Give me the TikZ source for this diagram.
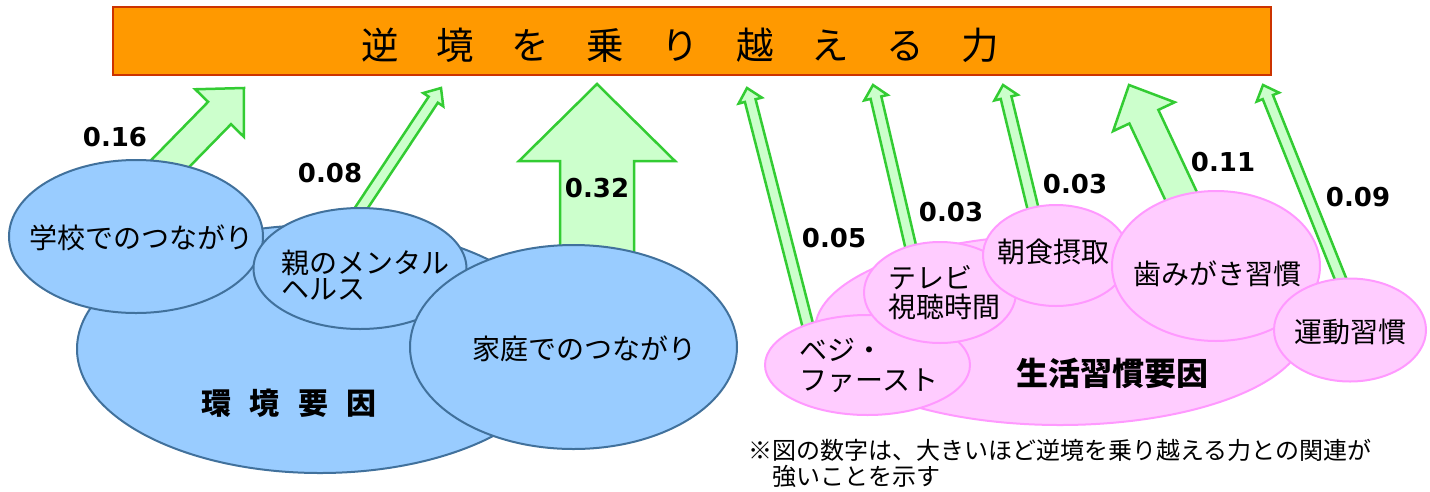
\documentclass[tikz,border=0pt]{standalone}
\usepackage{fontspec}
\usetikzlibrary{shapes.geometric,calc}
\newfontfamily\jp{Noto Sans CJK JP}
\newfontfamily\numfont{DejaVu Sans}
\definecolor{blfill}{HTML}{99CCFF}
\definecolor{bldraw}{HTML}{41719C}
\definecolor{pkfill}{HTML}{FFCCFF}
\definecolor{pkdraw}{HTML}{FF99FF}
\definecolor{grfill}{HTML}{CCFFCC}
\definecolor{grdraw}{HTML}{33CC33}
\definecolor{orfill}{HTML}{FF9900}
\definecolor{ordraw}{HTML}{CC3300}
% block arrow from start #1 to tip #2: shaft half width #3, head half width #4, head length #5
\newcommand\garrow[5]{%
  \coordinate (#2-hb) at ($(#2)!#5!(#1)$);
  \draw[grarrow] ($(#1)!#3!90:(#2)$) -- ($(#2-hb)!#3!90:(#2)$) -- ($(#2-hb)!#4!90:(#2)$) -- (#2)
    -- ($(#2-hb)!#4!-90:(#2)$) -- ($(#2-hb)!#3!-90:(#2)$) -- ($(#1)!#3!-90:(#2)$) -- cycle;}
\tikzset{
  grarrow/.style={draw=grdraw, fill=grfill, line width=2.5pt, line join=miter},
  blueell/.style={ellipse, draw=bldraw, fill=blfill, line width=2pt, inner sep=0pt},
  pinkell/.style={ellipse, draw=pkdraw, fill=pkfill, line width=2pt, inner sep=0pt},
  jtext/.style={font=\jp\fontsize{28}{29}\selectfont, inner sep=0pt, align=left},
  numlbl/.style={font=\numfont\bfseries\fontsize{26}{28}\selectfont, inner sep=0pt},
}
\begin{document}
\begin{tikzpicture}[x=1pt,y=-1pt]
\useasboundingbox (0,0) rectangle (1430,491);
\fill[white] (0,0) rectangle (1430,491);
% title bar
\node[draw=ordraw, fill=orfill, line width=2.5pt, minimum width=1158pt, minimum height=68pt, inner sep=0pt] (title) at (692,41) {};
\node[font=\jp\fontsize{37.5}{40}\selectfont, inner sep=0pt] (titletext) at (680,45) {逆　境　を　乗　り　越　え　る　力};
% arrow coordinates
\coordinate (s1) at (158,176);  \coordinate (t1) at (244,88);
\coordinate (s2) at (352,222);  \coordinate (t2) at (441,88);
\coordinate (s3) at (597,262);  \coordinate (t3) at (597,84);
\coordinate (s4) at (809,330);  \coordinate (t4) at (747,88);
\coordinate (s5) at (915,265);  \coordinate (t5) at (873,85);
\coordinate (s6) at (1037,225); \coordinate (t6) at (1003,85);
\coordinate (s7) at (1190,215); \coordinate (t7) at (1129,85);
\coordinate (s8) at (1345,290); \coordinate (t8) at (1263,85);
\garrow{s1}{t1}{16pt}{34pt}{35pt}
\garrow{s2}{t2}{5.5pt}{12pt}{14pt}
\garrow{s3}{t3}{37pt}{78pt}{77pt}
\garrow{s4}{t4}{5.5pt}{12pt}{13pt}
\garrow{s5}{t5}{5.5pt}{12pt}{13pt}
\garrow{s6}{t6}{5.5pt}{12pt}{13pt}
\garrow{s7}{t7}{16pt}{34pt}{35pt}
\garrow{s8}{t8}{5.5pt}{12pt}{13pt}
% environment cluster
\node[blueell, minimum width=486pt, minimum height=248pt] (env) at (320,349) {};
\node[blueell, minimum width=254pt, minimum height=153pt] (gakko) at (136,236.5) {};
\node[blueell, minimum width=213pt, minimum height=121pt] (oya) at (360,268.5) {};
\node[blueell, minimum width=327pt, minimum height=204pt] (katei) at (573.5,347) {};
% lifestyle cluster
\node[pinkell, minimum width=490pt, minimum height=190pt] (life) at (1060,330) {};
\node[pinkell, minimum width=205pt, minimum height=100pt] (beji) at (867.5,365) {};
\node[pinkell, minimum width=152pt, minimum height=101pt] (tv) at (940,292.5) {};
\node[pinkell, minimum width=146pt, minimum height=101pt] (asa) at (1056,255.5) {};
\node[pinkell, minimum width=208pt, minimum height=150pt] (hami) at (1216,266) {};
\node[pinkell, minimum width=152pt, minimum height=103pt] (undo) at (1350,330) {};
% texts
\node[jtext] (tgakko) at (141,238) {学校でのつながり};
\node[jtext, font=\jp\fontsize{28}{26}\selectfont] (toya) at (365,275) {親のメンタル\\ヘルス};
\node[jtext] (tkatei) at (584,348.5) {家庭でのつながり};
\node[font=\jp\bfseries\fontsize{30}{32}\selectfont, inner sep=0pt] (tenv) at (289,403) {環\hspace{18.5pt}境\hspace{18.5pt}要\hspace{18.5pt}因};
\node[font=\jp\bfseries\fontsize{32}{34}\selectfont, inner sep=0pt] (tlife) at (1112,373) {生活習慣要因};
\node[jtext, font=\jp\fontsize{28}{30}\selectfont] (tbeji) at (869,365) {ベジ・\\ファースト};
\node[jtext] (ttv) at (944,292.5) {テレビ\\視聴時間};
\node[jtext] (tasa) at (1053,252) {朝食摂取};
\node[jtext] (thami) at (1217,274) {歯みがき習慣};
\node[jtext] (tundo) at (1350,332) {運動習慣};
% numbers
\node[numlbl] (n1) at (115,137) {0.16};
\node[numlbl] (n2) at (330,173) {0.08};
\node[numlbl] (n3) at (597,188) {0.32};
\node[numlbl] (n4) at (834,238) {0.05};
\node[numlbl] (n5) at (951,212) {0.03};
\node[numlbl] (n6) at (1075,184) {0.03};
\node[numlbl] (n7) at (1223,162) {0.11};
\node[numlbl] (n8) at (1358,197) {0.09};
% note
\node[jtext, font=\jp\fontsize{24}{26}\selectfont, anchor=west] (note) at (748,463) {※図の数字は、大きいほど逆境を乗り越える力との関連が\\　強いことを示す};
\end{tikzpicture}
\end{document}
